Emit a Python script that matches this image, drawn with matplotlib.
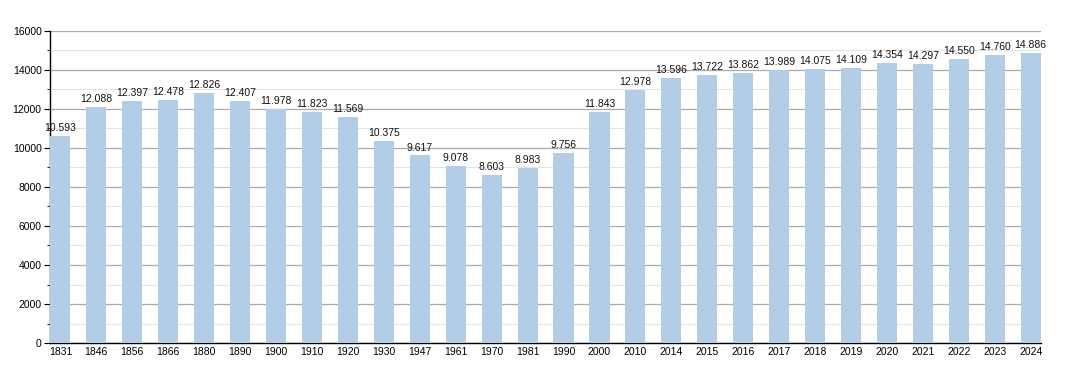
import matplotlib
matplotlib.use("Agg")
import matplotlib.pyplot as plt
from matplotlib.ticker import MultipleLocator

years = ['1831', '1846', '1856', '1866', '1880', '1890', '1900', '1910', '1920', '1930',
         '1947', '1961', '1970', '1981', '1990', '2000', '2010', '2014', '2015', '2016',
         '2017', '2018', '2019', '2020', '2021', '2022', '2023', '2024']
population = [10593, 12088, 12397, 12478, 12826, 12407, 11978, 11823, 11569, 10375,
              9617, 9078, 8603, 8983, 9756, 11843, 12978, 13596, 13722, 13862,
              13989, 14075, 14109, 14354, 14297, 14550, 14760, 14886]

plt.rcParams['font.family'] = ['Liberation Sans', 'DejaVu Sans']

fig = plt.figure(figsize=(10.7, 3.73), dpi=100)
ax = fig.add_axes([0.0467, 0.0804, 0.9263, 0.8366])

x = range(len(years))
ax.bar(x, population, width=0.56, color='#b3cde6', zorder=3)
for xi, v in zip(x, population):
    ax.text(xi, v + 150, f"{v // 1000}.{v % 1000:03d}", ha='center', va='bottom',
            fontsize=7.5, color='#111111', zorder=4)

ax.set_xlim(-0.29, len(years) - 1 + 0.29)
ax.set_ylim(0, 16000)
ax.set_xticks(list(x))
ax.set_xticklabels(years)
ax.yaxis.set_major_locator(MultipleLocator(2000))
ax.yaxis.set_minor_locator(MultipleLocator(1000))
ax.grid(axis='y', which='major', color='#aaaaaa', linewidth=0.9, zorder=0)
ax.grid(axis='y', which='minor', color='#e4e4e4', linewidth=0.8, zorder=0)
ax.tick_params(axis='x', length=0, labelsize=7.5, pad=3)
ax.tick_params(axis='y', which='major', length=4, labelsize=7.5, pad=2)
ax.tick_params(axis='y', which='minor', length=2)
for s in ['top', 'right']:
    ax.spines[s].set_visible(False)
ax.spines['left'].set_linewidth(1.0)
ax.spines['bottom'].set_linewidth(1.0)

fig.savefig('out.png', dpi=100)
